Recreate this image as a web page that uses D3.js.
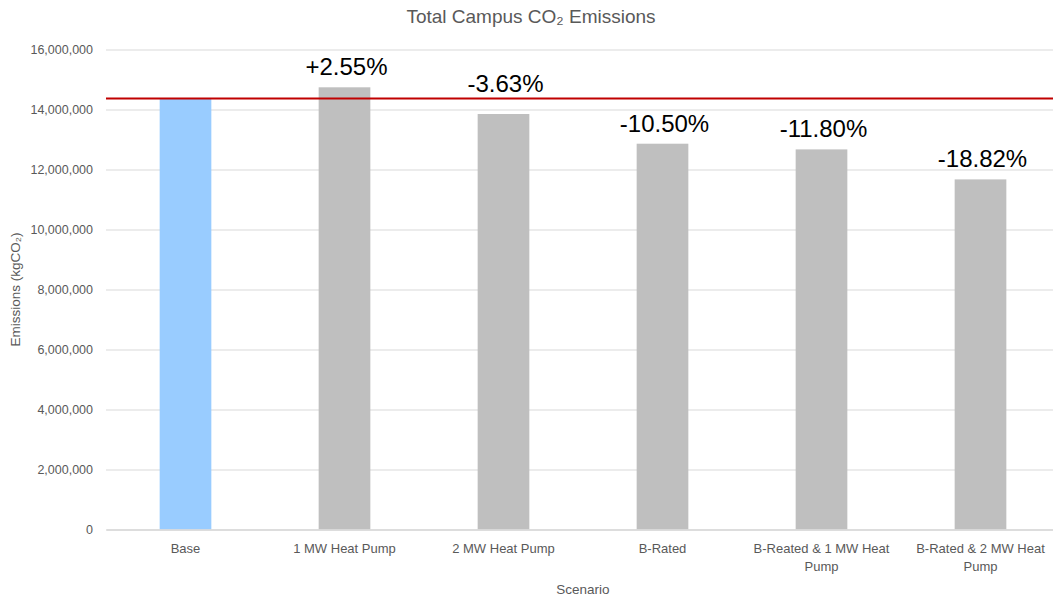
<!DOCTYPE html>
<html>
<head>
<meta charset="utf-8">
<script src="https://cdn.jsdelivr.net/npm/d3@7"></script>
<style>
  html, body { margin: 0; padding: 0; background: #fff; overflow: hidden; }
  svg { display: block; font-family: "Liberation Sans", Arial, sans-serif; }
</style>
</head>
<body>
<svg id="chart" width="1053" height="603"></svg>
<script>
const categories = ["Base", "1 MW Heat Pump", "2 MW Heat Pump", "B-Rated", "B-Reated & 1 MW Heat Pump", "B-Rated & 2 MW Heat Pump"];
const emissions = [14370000, 14740000, 13850000, 12860000, 12670000, 11670000];
const changeLabels = ["", "+2.55%", "-3.63%", "-10.50%", "-11.80%", "-18.82%"];
const yTicks = [0, 2000000, 4000000, 6000000, 8000000, 10000000, 12000000, 14000000, 16000000];
const baselineValue = emissions[0];

const svg = d3.select("#chart");
const W = 1053, H = 603;
const margin = { left: 106, right: -7, top: 49.5, bottom: 73.5 };
const x0 = margin.left, x1 = W - margin.right;
const yTop = margin.top, yBot = H - margin.bottom;

const x = d3.scaleBand().domain(categories).range([x0, x1]).paddingInner(0.675).paddingOuter(0.3375);
const y = d3.scaleLinear().domain([0, 16000000]).range([yBot, yTop]);

// gridlines
const grid = svg.append("g")
  .attr("transform", `translate(${x0},0)`)
  .call(d3.axisLeft(y).tickValues(yTicks).tickSize(-(x1 - x0)).tickFormat(""));
grid.select(".domain").remove();
grid.selectAll("line").attr("stroke", "#d9d9d9").attr("stroke-width", 1);

// y tick labels
const yAxis = svg.append("g")
  .attr("transform", `translate(${x0},0)`)
  .call(d3.axisLeft(y).tickValues(yTicks).tickSize(0).tickPadding(13).tickFormat(d3.format(",")));
yAxis.select(".domain").remove();
yAxis.selectAll("text").attr("fill", "#595959").attr("font-size", "12.5px")
  .attr("font-family", "'Liberation Sans', Arial, sans-serif");

// bars
svg.append("g").selectAll("rect").data(emissions).join("rect")
  .attr("x", (d, i) => x(categories[i]))
  .attr("width", x.bandwidth())
  .attr("y", d => y(d))
  .attr("height", d => y(0) - y(d))
  .attr("fill", (d, i) => i === 0 ? "#99ccff" : "#bfbfbf");

// x axis line
const xAxis = svg.append("g")
  .attr("transform", `translate(0,${yBot})`)
  .call(d3.axisBottom(x).tickSize(0).tickPadding(14));
xAxis.select(".domain").attr("stroke", "#d9d9d9").attr("stroke-width", 1.5);
xAxis.selectAll("text").attr("fill", "#595959").attr("font-size", "13px")
  .attr("font-family", "'Liberation Sans', Arial, sans-serif")
  .each(function(d) {
    const t = d3.select(this);
    const words = d.split(" ");
    const maxW = 145;
    t.text(null);
    let lines = [], cur = [];
    const tmp = t.append("tspan");
    words.forEach(w => {
      cur.push(w);
      tmp.text(cur.join(" "));
      if (tmp.node().getComputedTextLength() > maxW && cur.length > 1) {
        cur.pop(); lines.push(cur.join(" ")); cur = [w];
      }
    });
    lines.push(cur.join(" "));
    tmp.remove();
    lines.forEach((ln, i) => {
      t.append("tspan").attr("x", 0).attr("dy", i === 0 ? "0.71em" : "1.38em").text(ln);
    });
  });

// reference red line
const yRef = y(baselineValue);
svg.append("line")
  .attr("x1", x0).attr("x2", x1)
  .attr("y1", yRef).attr("y2", yRef)
  .attr("stroke", "#c00000").attr("stroke-width", 2);

// percentage labels (moved above the reference line when they would overlap it)
function labelY(v) {
  let b = y(v) - 12;
  if (b > yRef - 4 && b - 18 < yRef + 2) b = yRef - 6;
  return b;
}
svg.append("g").selectAll("text").data(changeLabels).join("text")
  .attr("x", (d, i) => x(categories[i]) + x.bandwidth() / 2 + 2)
  .attr("y", (d, i) => labelY(emissions[i]))
  .attr("text-anchor", "middle")
  .attr("font-size", "24px")
  .attr("fill", "#000")
  .text(d => d);

// title
svg.append("text")
  .attr("x", 531).attr("y", 23)
  .attr("text-anchor", "middle")
  .attr("font-size", "19px")
  .attr("fill", "#595959")
  .text("Total Campus CO₂ Emissions");

// axis titles
svg.append("text")
  .attr("transform", `translate(20,${(yTop + yBot) / 2}) rotate(-90)`)
  .attr("text-anchor", "middle")
  .attr("font-size", "13.5px")
  .attr("fill", "#595959")
  .text("Emissions (kgCO₂)");

svg.append("text")
  .attr("x", (x0 + x1) / 2).attr("y", 594)
  .attr("text-anchor", "middle")
  .attr("font-size", "13.5px")
  .attr("fill", "#595959")
  .text("Scenario");
</script>
</body>
</html>
